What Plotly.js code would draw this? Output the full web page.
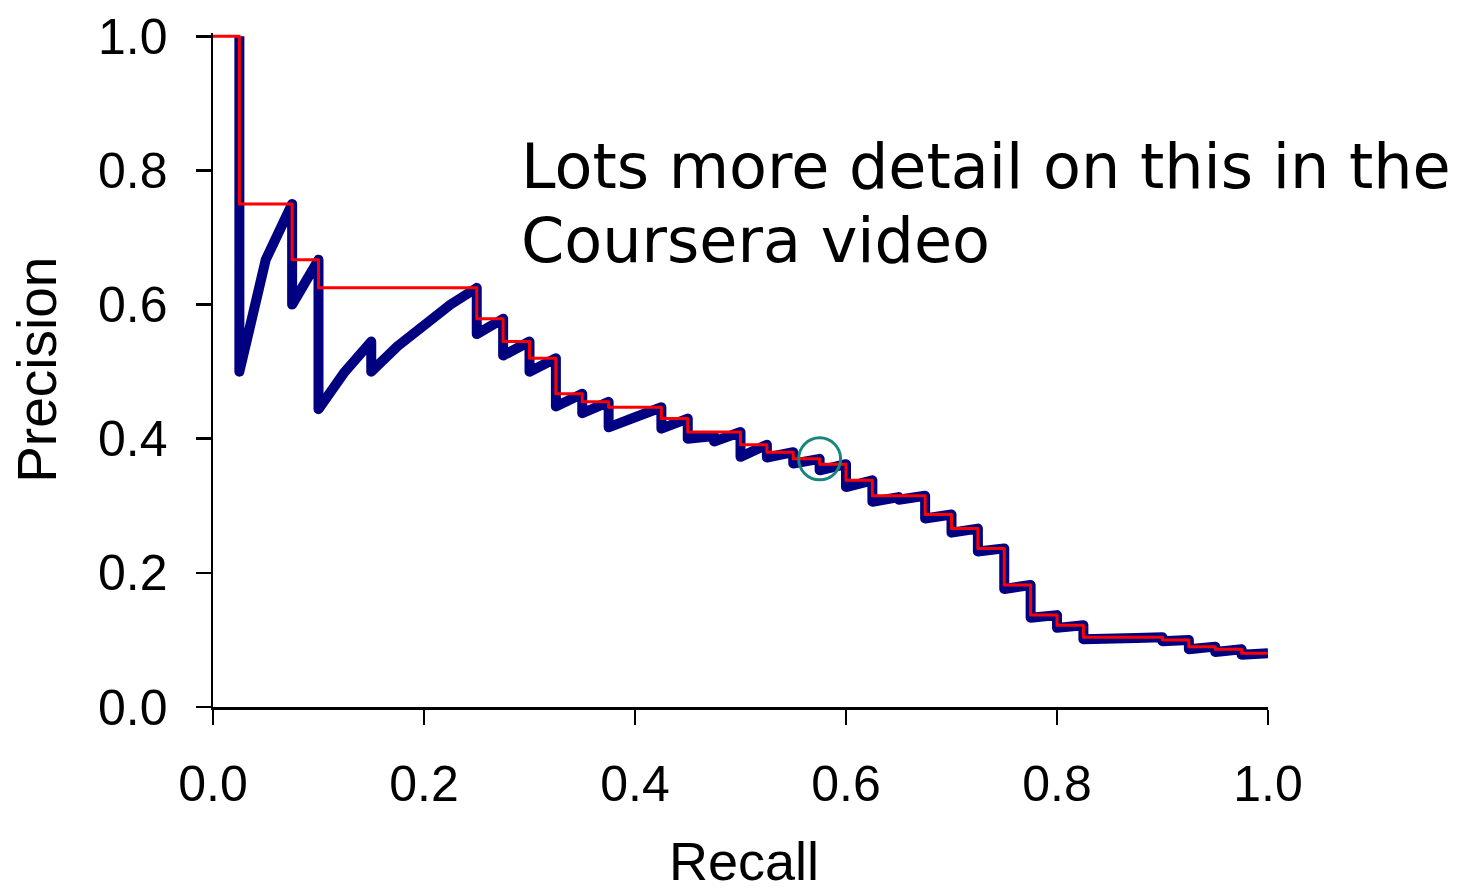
<!DOCTYPE html>
<html>
<head>
<meta charset="utf-8">
<script src="https://cdn.plot.ly/plotly-3.0.1.min.js"></script>
<style>
  html, body { margin: 0; padding: 0; background: #ffffff; }
  #chart { width: 1470px; height: 892px; }
  #chart path.js-line { stroke-linejoin: round !important; }
</style>
</head>
<body>
<div id="chart"></div>
<script>
// Raw precision / recall points (thick navy curve)
var blueRecall = [0.025, 0.025, 0.05, 0.075, 0.075, 0.1, 0.1, 0.125, 0.15, 0.15,
  0.175, 0.2, 0.225, 0.25, 0.25, 0.275, 0.275, 0.3, 0.3, 0.325,
  0.325, 0.35, 0.35, 0.375, 0.375, 0.4, 0.425, 0.425, 0.45, 0.45,
  0.475, 0.475, 0.5, 0.5, 0.525, 0.525, 0.55, 0.55, 0.575, 0.575,
  0.6, 0.6, 0.625, 0.625, 0.65, 0.65, 0.675, 0.675, 0.7, 0.7,
  0.725, 0.725, 0.75, 0.75, 0.775, 0.775, 0.8, 0.8, 0.825, 0.825,
  0.85, 0.85, 0.875, 0.9, 0.9, 0.925, 0.925, 0.95, 0.95, 0.975,
  0.975, 1.0];
var bluePrecision = [1.0, 0.5, 0.667, 0.75, 0.6, 0.667, 0.444, 0.5, 0.545, 0.5,
  0.538, 0.571, 0.6, 0.625, 0.556, 0.579, 0.524, 0.545, 0.5, 0.52,
  0.448, 0.467, 0.438, 0.455, 0.417, 0.432, 0.447, 0.415, 0.43, 0.4,
  0.404, 0.396, 0.41, 0.373, 0.391, 0.372, 0.38, 0.363, 0.37, 0.353,
  0.362, 0.328, 0.338, 0.306, 0.313, 0.309, 0.315, 0.281, 0.287, 0.26,
  0.266, 0.232, 0.2365, 0.176, 0.182, 0.133, 0.137, 0.118, 0.122, 0.101,
  0.1035, 0.101, 0.103, 0.104, 0.098, 0.1, 0.086, 0.09, 0.082, 0.086,
  0.078, 0.08];

// Interpolated precision (thin red step line)
var redRecall = [0, 0.025, 0.05, 0.075, 0.1, 0.125, 0.15, 0.175, 0.2, 0.225,
  0.25, 0.275, 0.3, 0.325, 0.35, 0.375, 0.4, 0.425, 0.45, 0.475,
  0.5, 0.525, 0.55, 0.575, 0.6, 0.625, 0.65, 0.675, 0.7, 0.725,
  0.75, 0.775, 0.8, 0.825, 0.85, 0.875, 0.9, 0.925, 0.95, 0.975, 1.0];
var redPrecision = [1.0, 1.0, 0.75, 0.75, 0.667, 0.625, 0.625, 0.625, 0.625, 0.625,
  0.625, 0.579, 0.545, 0.52, 0.467, 0.455, 0.447, 0.447, 0.43, 0.41,
  0.41, 0.391, 0.38, 0.37, 0.362, 0.338, 0.315, 0.315, 0.287, 0.266,
  0.2365, 0.182, 0.137, 0.122, 0.104, 0.104, 0.104, 0.1, 0.09, 0.086, 0.08];

// Highlighted point (teal circle)
var highlightRecall = [0.575];
var highlightPrecision = [0.37];

// Axis ticks
var tickValues = [0, 0.2, 0.4, 0.6, 0.8, 1.0];
var tickLabels = ["0.0", "0.2", "0.4", "0.6", "0.8", "1.0"];

var xTitle = "Recall";
var yTitle = "Precision";
var noteLines = ["Lots more detail on this in the", "Coursera video"];

var axisFont = { family: "Liberation Sans, Arial, sans-serif", size: 50, color: "#000000" };

var traces = [
  {
    x: blueRecall, y: bluePrecision,
    type: "scatter", mode: "lines",
    line: { color: "#000080", width: 10, shape: "linear" },
    hoverinfo: "skip"
  },
  {
    x: redRecall, y: redPrecision,
    type: "scatter", mode: "lines",
    line: { color: "#ff0000", width: 3, shape: "vh" },
    hoverinfo: "skip"
  },
  {
    x: highlightRecall, y: highlightPrecision,
    type: "scatter", mode: "markers",
    marker: { symbol: "circle-open", size: 42, color: "#17877e", line: { width: 3, color: "#17877e" } },
    cliponaxis: false,
    hoverinfo: "skip"
  }
];

var layout = {
  width: 1470, height: 892,
  margin: { l: 213, r: 202, t: 33, b: 185, pad: 0 },
  paper_bgcolor: "#ffffff", plot_bgcolor: "#ffffff",
  showlegend: false,
  xaxis: {
    range: [0, 1],
    tickmode: "array", tickvals: tickValues, ticktext: tickLabels,
    ticks: "outside", ticklen: 15, tickwidth: 2.5, tickcolor: "#000000",
    showline: true, linecolor: "#000000", linewidth: 2.5,
    showgrid: false, zeroline: false,
    tickfont: axisFont,
    ticklabelstandoff: 16
  },
  yaxis: {
    range: [0, 1.005],
    tickmode: "array", tickvals: tickValues, ticktext: tickLabels,
    ticks: "outside", ticklen: 15, tickwidth: 2.5, tickcolor: "#000000",
    showline: true, linecolor: "#000000", linewidth: 2.5,
    showgrid: false, zeroline: false,
    tickfont: axisFont,
    ticklabelstandoff: 18
  },
  annotations: [
    {
      xref: "paper", yref: "paper", x: 0.503, y: -0.229,
      xanchor: "center", yanchor: "middle", showarrow: false,
      text: xTitle,
      font: { family: "Liberation Sans, Arial, sans-serif", size: 54, color: "#000000" }
    },
    {
      xref: "paper", yref: "paper", x: -0.167, y: 0.5,
      xanchor: "center", yanchor: "middle", showarrow: false,
      textangle: -90,
      text: yTitle,
      font: { family: "Liberation Sans, Arial, sans-serif", size: 55, color: "#000000" }
    },
    {
      xref: "paper", yref: "paper", x: 0.2905, y: 0.8018,
      xanchor: "left", yanchor: "middle", showarrow: false,
      text: noteLines[0],
      font: { family: "DejaVu Sans, sans-serif", size: 62, color: "#000000" }
    },
    {
      xref: "paper", yref: "paper", x: 0.2905, y: 0.692,
      xanchor: "left", yanchor: "middle", showarrow: false,
      text: noteLines[1],
      font: { family: "DejaVu Sans, sans-serif", size: 62, color: "#000000" }
    }
  ]
};

Plotly.newPlot("chart", traces, layout, { staticPlot: true, displayModeBar: false });
</script>
</body>
</html>
